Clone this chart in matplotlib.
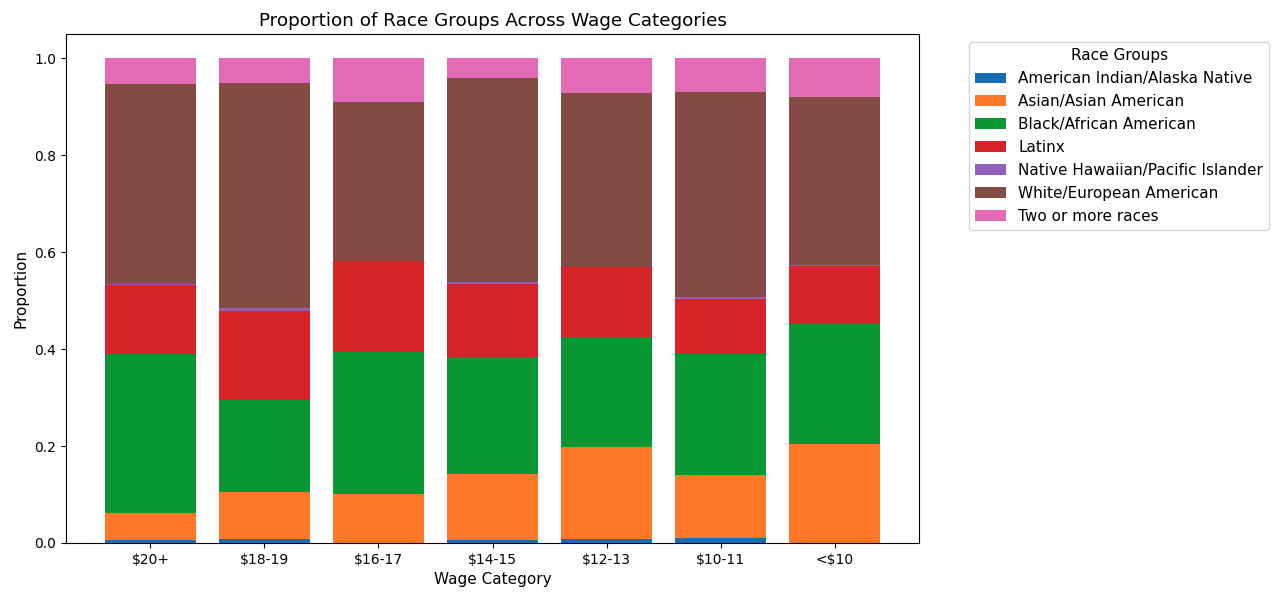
import matplotlib
matplotlib.use("Agg")
import matplotlib.pyplot as plt
import numpy as np

categories = ["$20+", "$18-19", "$16-17", "$14-15", "$12-13", "$10-11", "<$10"]
groups = ["American Indian/Alaska Native", "Asian/Asian American", "Black/African American",
          "Latinx", "Native Hawaiian/Pacific Islander", "White/European American", "Two or more races"]

american_indian = [0.006, 0.009, 0.000, 0.006, 0.009, 0.011, 0.000]
asian = [0.0565, 0.0955, 0.1017, 0.137, 0.190, 0.129, 0.205]
black = [0.3275, 0.1905, 0.293, 0.2405, 0.225, 0.250, 0.247]
latinx = [0.142, 0.184, 0.186, 0.151, 0.145, 0.113, 0.119]
native_hawaiian = [0.003, 0.005, 0.000, 0.003, 0.001, 0.005, 0.002]
white = [0.412, 0.465, 0.330, 0.421, 0.359, 0.423, 0.348]
two_or_more = [0.053, 0.051, 0.0893, 0.0415, 0.071, 0.069, 0.079]

series = [american_indian, asian, black, latinx, native_hawaiian, white, two_or_more]
colors = ["#1a6db2", "#ff7727", "#0a9632", "#d62428", "#9260b8", "#834b43", "#e46ab5"]

plt.rcParams["font.size"] = 11
fig = plt.figure(figsize=(12.77, 5.97), dpi=100)
ax = fig.add_axes([66/1277, 54/597, 853/1277, 509/597])

x = np.arange(len(categories))
bottom = np.zeros(len(categories))
for name, vals, c in zip(groups, series, colors):
    vals = np.array(vals)
    ax.bar(x, vals, bottom=bottom, label=name, width=0.8, color=c)
    bottom += vals

ax.set_xticks(x)
ax.set_xticklabels(categories)
ax.tick_params(labelsize=10)
ax.set_xlabel("Wage Category")
ax.set_ylabel("Proportion")
ax.set_title("Proportion of Race Groups Across Wage Categories")
ax.legend(title="Race Groups", bbox_to_anchor=(1.05, 0.999), loc="upper left",
          labelspacing=0.52)

fig.savefig("out.png", dpi=100)
